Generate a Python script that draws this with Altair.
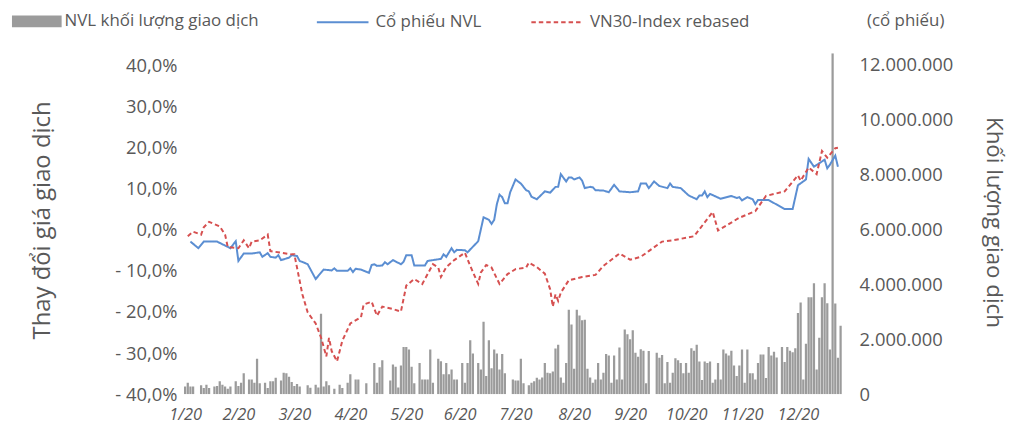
import altair as alt
import pandas as pd

FONT = "Open Sans"
TXT = "#595959"

# ---- x axis: trading-session index, labelled by month ----
month_labels = ["1/20", "2/20", "3/20", "4/20", "5/20", "6/20",
                "7/20", "8/20", "9/20", "10/20", "11/20", "12/20"]
month_tick_idx = [0, 20, 41, 62, 83, 103, 124, 146, 167, 188, 209, 230]

# ---- daily traded volume of NVL (million shares), one value per session ----
volume_m = [
    0.28, 0.42, 0.28, 0.28, 0, 0, 0.33, 0.23, 0.35, 0.23,
    0, 0.28, 0.30, 0.47, 0.35, 0.28, 0.20, 0.28, 0, 0.47,
    0.30, 0.42, 0.76, 0, 0.54, 0.54, 0.42, 1.29, 0.40, 0,
    0.42, 0.23, 0.47, 0.47, 0.60, 0, 0.50, 0.78, 0.76, 0.64,
    0.45, 0.30, 0.37, 0.28, 0, 0, 0.33, 0.24, 0, 0.35,
    0.25, 2.93, 0.28, 0.47, 0.33, 0, 0.20, 0, 0.35, 0.23,
    0, 0.42, 0.73, 0, 0.54, 0.54, 0, 0, 0.40, 0,
    0, 1.14, 0.42, 0.98, 1.24, 0, 0, 0.50, 1.08, 1.00,
    0.25, 1.05, 1.72, 1.72, 1.63, 1.00, 0.40, 0, 1.14, 0.54,
    0.54, 0.54, 1.63, 0.42, 0, 1.29, 1.20, 0.73, 1.14, 0.73,
    0.90, 0.54, 0.54, 0, 1.14, 0.42, 1.14, 1.96, 1.48, 0,
    1.14, 0.90, 2.64, 0.66, 1.96, 0.95, 1.63, 1.48, 0.90, 1.46,
    0.76, 0, 0, 0.54, 0.50, 0.50, 1.29, 0.40, 0, 0.33,
    0.42, 0.47, 0.60, 0.54, 0.61, 1.14, 0.78, 0.76, 0.83, 1.66,
    1.80, 0.61, 0.42, 1.14, 3.07, 2.54, 0.93, 3.07, 2.86, 2.69,
    2.71, 0.93, 0.61, 0.42, 0.54, 1.14, 0.54, 0.78, 1.46, 1.41,
    0.42, 1.41, 0.54, 1.70, 0.54, 2.35, 2.18, 2.00, 2.33, 1.51,
    1.36, 1.64, 1.58, 0.40, 1.57, 0, 0, 1.51, 1.33, 1.43,
    0.40, 1.17, 0.42, 0.78, 1.31, 1.24, 1.14, 0.76, 1.14, 0.78,
    1.67, 1.58, 1.80, 1.19, 0.52, 1.19, 1.14, 1.19, 0.42, 0.54,
    1.14, 0.54, 1.63, 1.48, 1.41, 1.58, 1.05, 0.66, 1.05, 1.63,
    0.42, 1.63, 0.76, 0.76, 0.54, 1.14, 1.45, 1.45, 0.59, 1.72,
    1.41, 1.55, 1.34, 0, 1.72, 1.17, 1.72, 1.58, 1.53, 1.67,
    2.95, 3.34, 0.54, 1.84, 3.53, 3.53, 4.04, 0.90, 2.05, 3.53,
    4.04, 3.31, 1.63, 12.4, 3.30, 1.33, 2.49,
]

# ---- NVL share price change (%), read at the turning points ----
nvl_idx = [2, 5, 7, 12, 17, 19, 20, 22, 25, 28, 29, 31, 32, 34, 35, 36, 39, 40, 42, 43,
           45, 46, 49, 52, 55, 56, 57, 61, 62, 63, 64, 66, 69, 70, 71, 72, 74, 75, 76, 78,
           81, 82, 83, 85, 86, 90, 91, 96, 97, 98, 100, 101, 102, 105, 106, 110, 112, 114, 115, 116,
           117, 118, 119, 120, 121, 122, 124, 126, 128, 129, 130, 132, 135, 137, 139, 140, 141, 143, 144, 145,
           146, 148, 149, 150, 152, 153, 154, 157, 159, 161, 163, 167, 170, 171, 173, 174, 176, 178, 181, 182,
           183, 186, 189, 192, 193, 194, 195, 196, 197, 201, 205, 207, 208, 209, 211, 213, 214, 215, 219, 225,
           228, 230, 233, 234, 236, 240, 241, 242, 244, 245]
nvl_pct = [-2.9, -4.5, -2.9, -2.9, -4.5, -2.8, -7.6, -5.8, -5.8, -5.5, -6.6, -5.7, -6.6, -6.8, -6.2, -7.4, -6.8, -6.2, -6.4, -7.6,
           -8.1, -8.4, -12.0, -9.7, -9.9, -9.4, -10.0, -10.0, -9.4, -10.3, -9.5, -9.7, -10.5, -8.6, -8.4, -8.8, -8.7, -7.9, -8.4, -7.4,
           -8.4, -7.8, -6.2, -6.2, -8.7, -8.7, -7.6, -7.1, -6.0, -6.6, -4.5, -5.5, -4.9, -5.0, -5.5, -2.8, 3.0, 2.4, 1.4, 2.4,
           6.2, 8.5, 7.9, 6.4, 6.4, 9.1, 12.2, 11.2, 9.6, 9.3, 8.0, 7.4, 9.3, 9.0, 10.4, 10.4, 13.5, 11.7, 12.7, 12.7,
           12.2, 12.7, 11.9, 10.1, 10.4, 10.3, 9.6, 9.5, 9.1, 10.9, 9.3, 9.1, 9.3, 11.2, 11.2, 10.1, 11.7, 10.6, 10.1, 11.2,
           10.4, 10.1, 8.3, 7.4, 8.3, 8.3, 9.3, 7.9, 8.7, 7.5, 8.2, 7.7, 7.9, 7.1, 7.9, 7.4, 6.2, 7.2, 7.2, 5.0,
           5.0, 10.8, 12.2, 17.2, 15.3, 17.0, 14.9, 15.8, 18.0, 15.3]

# ---- VN30-Index rebased (%) ----
vn30_idx = [1, 3, 6, 7, 9, 13, 15, 16, 20, 22, 24, 25, 28, 31, 32, 36, 40, 41, 44, 46,
            49, 51, 53, 54, 55, 57, 59, 62, 66, 67, 70, 72, 74, 78, 81, 83, 86, 89, 93, 95,
            96, 98, 101, 105, 107, 110, 111, 113, 115, 118, 121, 124, 128, 129, 132, 135, 137, 138, 139, 140,
            141, 144, 149, 154, 157, 163, 167, 171, 174, 179, 183, 191, 198, 200, 208, 214, 218, 225, 230, 231,
            234, 237, 239, 241, 244, 245]
vn30_pct = [-1.6, -0.5, -1.2, 0.6, 1.9, 0.8, -1.2, -4.2, -4.5, -2.6, -4.5, -2.9, -2.6, -1.2, -5.2, -5.6, -6.0, -6.0, -15.7, -20.1,
            -22.8, -26.2, -30.8, -26.3, -29.5, -32.0, -27.0, -22.8, -21.3, -18.2, -17.5, -20.9, -18.7, -19.3, -19.9, -13.6, -12.0, -13.2, -8.4, -9.2,
            -11.5, -9.1, -7.4, -5.6, -8.8, -13.2, -10.4, -8.6, -9.2, -13.2, -10.8, -9.6, -9.2, -8.0, -9.1, -10.7, -14.5, -18.7, -15.7, -17.3,
            -15.3, -12.3, -11.5, -11.0, -8.8, -5.8, -7.3, -6.6, -5.2, -2.9, -2.6, -1.6, 4.3, -0.2, 2.9, 4.5, 8.2, 9.3, 13.2, 11.9,
            15.1, 13.5, 19.1, 17.5, 19.8, 19.9]

series_bar = "NVL khối lượng giao dịch"
series_nvl = "Cổ phiếu NVL"
series_vn30 = "VN30-Index rebased"
unit_note = "(cổ phiếu)"

bars_df = pd.DataFrame({
    "phien": list(range(len(volume_m))),
    "kl": [v * 1_000_000 for v in volume_m],
    "series": series_bar,
})
lines_df = pd.concat([
    pd.DataFrame({"phien": nvl_idx, "pct": nvl_pct, "series": series_nvl}),
    pd.DataFrame({"phien": vn30_idx, "pct": vn30_pct, "series": series_vn30}),
], ignore_index=True)
note_df = pd.DataFrame({"txt": [unit_note]})

x_scale = alt.Scale(domain=[-0.5, 246.6], nice=False, zero=False)
label_js = "[" + ",".join("'%s'" % s for s in month_labels) + "]"
tick_js = "[" + ",".join(str(v) for v in month_tick_idx) + "]"
x_axis = alt.Axis(
    values=month_tick_idx,
    labelExpr=f"{label_js}[indexof({tick_js}, datum.value)]",
    labelFontSize=16.5, labelFontStyle="italic", labelPadding=12,
    title=None,
)

bars = alt.Chart(bars_df).transform_calculate(
    x0="datum.phien - 0.42", x1="datum.phien + 0.42", base="0"
).mark_rect(clip=True).encode(
    x=alt.X("x0:Q", scale=x_scale, axis=x_axis),
    x2="x1:Q",
    y=alt.Y("kl:Q", scale=alt.Scale(domain=[0, 12_400_000], nice=False),
            axis=alt.Axis(
                orient="right",
                values=[0, 2e6, 4e6, 6e6, 8e6, 10e6, 12e6],
                labelExpr="replace(format(datum.value, ','), regexp(',', 'g'), '.')",
                labelFontSize=18.5, labelPadding=17,
                title="Khối lượng giao dịch", titleFontSize=22.5,
                titleAngle=90, titleX=152, titleY=170,
                titleAlign="center", titleBaseline="middle",
            )),
    y2="base:Q",
    fill=alt.Fill("series:N", scale=alt.Scale(domain=[series_bar], range=["#9b9b9b"]),
                  legend=alt.Legend(
                      orient="none", legendX=-173, legendY=-57, title=None,
                      symbolType="M-1,-0.24H1V0.24H-1Z", symbolSize=2500,
                      symbolStrokeWidth=0, labelOffset=3, labelLimit=0,
                  )),
)

line_legend = alt.Legend(
    orient="none", legendX=133, legendY=-58, title=None,
    direction="horizontal", columns=2, columnPadding=46, labelLimit=0,
    symbolType="stroke", symbolSize=2704, symbolStrokeWidth=2, labelOffset=6,
)
lines = alt.Chart(lines_df).mark_line(strokeWidth=2, clip=True).encode(
    x=alt.X("phien:Q", scale=x_scale, axis=x_axis),
    y=alt.Y("pct:Q", scale=alt.Scale(domain=[-40, 42.9], nice=False),
            axis=alt.Axis(
                orient="left",
                values=[-40, -30, -20, -10, 0, 10, 20, 30, 40],
                labelExpr="datum.value < 0 ? '- ' + replace(format(-datum.value, '.1f'), '.', ',') + '%' : replace(format(datum.value, '.1f'), '.', ',') + '%'",
                labelFontSize=18.5, labelPadding=7,
                title="Thay đổi giá giao dịch", titleFontSize=24,
                titleAngle=270, titleX=-142, titleY=168,
                titleAlign="center", titleBaseline="middle",
            )),
    stroke=alt.Stroke("series:N",
                      scale=alt.Scale(domain=[series_nvl, series_vn30], range=["#5b8ed2", "#d65050"]),
                      legend=line_legend),
    strokeDash=alt.StrokeDash("series:N",
                              scale=alt.Scale(domain=[series_nvl, series_vn30], range=[[1, 0], [4.5, 3]]),
                              legend=line_legend),
)

note = alt.Chart(note_df).mark_text(
    align="left", baseline="middle", font=FONT, fontSize=17, color=TXT
).encode(
    text="txt:N",
    x=alt.value(688),
    y=alt.value(-32),
)

chart = alt.layer(bars, lines, note).resolve_scale(y="independent").properties(
    width=663, height=343.5,
    autosize=alt.AutoSizeParams(type="none"),
    padding={"left": 177, "top": 44, "right": 174, "bottom": 31},
).configure_view(stroke=None).configure_axis(
    grid=False, domain=False, ticks=False,
    labelFont=FONT, labelColor=TXT, titleFont=FONT, titleColor=TXT,
    titleFontWeight="normal",
).configure_legend(
    labelFont=FONT, labelColor=TXT, labelFontSize=17, padding=0, offset=0,
)

chart.save("out.html", embed_options={"renderer": "svg", "actions": False})
